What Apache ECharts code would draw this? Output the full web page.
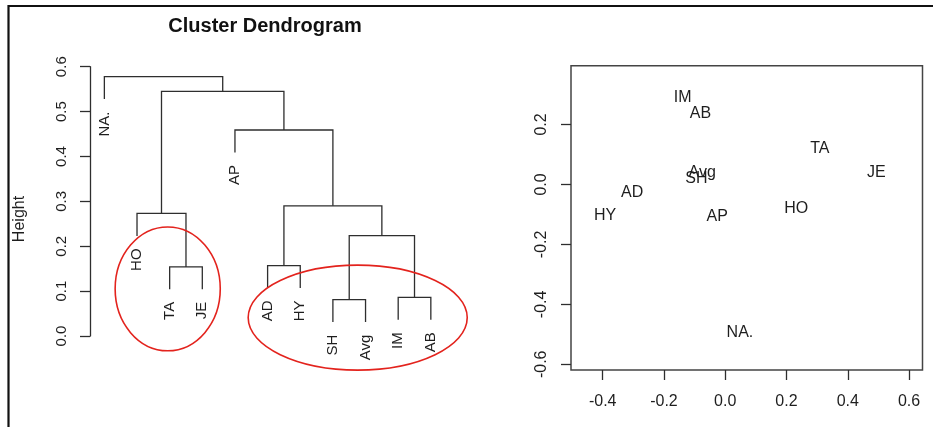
<!DOCTYPE html>
<html>
<head>
<meta charset="utf-8">
<title>Cluster Dendrogram</title>
<script src="https://cdn.jsdelivr.net/npm/echarts@6/dist/echarts.min.js"></script>
<style>
  html, body { margin: 0; padding: 0; background: #ffffff; }
  #chart { width: 933px; height: 427px; }
</style>
</head>
<body>
<div id="chart"></div>
<script>
// ---- Dendrogram data (hclust-style) ----
// Leaves in plotting order
const leafLabels = ['NA.', 'HO', 'TA', 'JE', 'AP', 'AD', 'HY', 'SH', 'Avg', 'IM', 'AB'];
// Merge steps: negative = leaf (1-based position), positive = earlier merge step
const mergeLeft   = [-8, -10, -3, -6, 1, -2, 4, -5, 6, -1];
const mergeRight  = [-9, -11, -4, -7, 2, 3, 5, 7, 8, 9];
const mergeHeight = [0.081, 0.086, 0.154, 0.157, 0.2235, 0.273, 0.290, 0.459, 0.545, 0.578];
const leafHang = 0.05;
const heightTicks = [0, 0.1, 0.2, 0.3, 0.4, 0.5, 0.6];

// Groups circled on the tree: centre (leaf position, height) and radii in the same units
const ringCenterX = [2.94, 8.76];
const ringCenterY = [0.105, 0.041];
const ringRadiusX = [1.61, 3.355];
const ringRadiusY = [0.138, 0.117];

// ---- Two-dimensional scaling coordinates ----
const pointLabels = ['IM', 'AB', 'TA', 'JE', 'SH', 'Avg', 'AD', 'HY', 'AP', 'HO', 'NA.'];
const pointX = [-0.139, -0.081, 0.309, 0.493, -0.094, -0.075, -0.304, -0.392, -0.026, 0.232, 0.048];
const pointY = [0.291, 0.236, 0.121, 0.039, 0.021, 0.039, -0.026, -0.103, -0.107, -0.081, -0.493];
const mdsTicksX = [-0.4, -0.2, 0.0, 0.2, 0.4, 0.6];
const mdsTicksY = [-0.6, -0.4, -0.2, 0.0, 0.2];

// ---- Build tree segments from the merge table ----
const nodeX = [];
const segments = [];
const leafEnds = [];
function childX(ref) { return ref < 0 ? -ref : nodeX[ref - 1]; }
function childBottom(ref, h) { return ref < 0 ? h - leafHang : mergeHeight[ref - 1]; }
for (let i = 0; i < mergeHeight.length; i++) {
  const l = mergeLeft[i], r = mergeRight[i], h = mergeHeight[i];
  const xl = childX(l), xr = childX(r);
  nodeX.push((xl + xr) / 2);
  segments.push([xl, xr, h, childBottom(l, h), childBottom(r, h)]);
  if (l < 0) leafEnds.push({ name: leafLabels[-l - 1], value: [-l, h - leafHang] });
  if (r < 0) leafEnds.push({ name: leafLabels[-r - 1], value: [-r, h - leafHang] });
}

const FONT = '"Liberation Sans", Arial, Helvetica, sans-serif';
const INK = '#1e1e1e';
const LINE = '#2e2e2e';

const chart = echarts.init(document.getElementById('chart'), null, { renderer: 'canvas' });

const option = {
  backgroundColor: '#ffffff',
  animation: false,
  textStyle: { fontFamily: FONT, color: INK },
  graphic: [
    {
      type: 'rect', z: 100,
      shape: { x: 8.5, y: 6, width: 1200, height: 1200 },
      style: { fill: 'none', stroke: '#111111', lineWidth: 2.2 }
    },
    {
      type: 'text', x: 265, y: 26,
      style: { text: 'Cluster Dendrogram', font: 'bold 20px ' + FONT, fill: '#111111',
               align: 'center', verticalAlign: 'middle' }
    },
    {
      type: 'text', x: 20, y: 219, rotation: Math.PI / 2,
      style: { text: 'Height', font: '16px ' + FONT, fill: INK,
               align: 'center', verticalAlign: 'middle' }
    }
  ],
  grid: [
    { left: 90, top: 66.7, width: 355.2, height: 269.3, show: false },
    { left: 571, top: 65.7, width: 351.5, height: 304.3, show: true,
      borderColor: '#444444', borderWidth: 1.5, backgroundColor: 'transparent' }
  ],
  xAxis: [
    { gridIndex: 0, type: 'value', min: 0.56, max: 11.44, show: false },
    {
      gridIndex: 1, type: 'value', min: -0.5035, max: 0.644, position: 'bottom',
      axisLine: { show: false, onZero: false },
      splitLine: { show: false },
      axisTick: { show: true, length: 10, customValues: mdsTicksX,
                  lineStyle: { color: LINE, width: 1.3 } },
      axisLabel: { show: true, customValues: mdsTicksX, margin: 24, fontSize: 16,
                   color: INK, fontFamily: FONT, formatter: v => v.toFixed(1) }
    }
  ],
  yAxis: [
    {
      gridIndex: 0, type: 'value', min: 0, max: 0.6, interval: 0.1, position: 'left',
      axisLine: { show: true, onZero: false, lineStyle: { color: LINE, width: 1.3 } },
      splitLine: { show: false },
      axisTick: { show: true, length: 10, customValues: heightTicks,
                  lineStyle: { color: LINE, width: 1.3 } },
      axisLabel: { show: true, customValues: heightTicks, rotate: 90, margin: 21, fontSize: 15,
                   color: INK, fontFamily: FONT, formatter: v => v.toFixed(1) }
    },
    {
      gridIndex: 1, type: 'value', min: -0.619, max: 0.396, position: 'left',
      axisLine: { show: false, onZero: false },
      splitLine: { show: false },
      axisTick: { show: true, length: 10, customValues: mdsTicksY,
                  lineStyle: { color: LINE, width: 1.3 } },
      axisLabel: { show: true, customValues: mdsTicksY, rotate: 90, margin: 21, fontSize: 16,
                   color: INK, fontFamily: FONT, formatter: v => v.toFixed(1) }
    }
  ],
  series: [
    {
      // tree branches
      type: 'custom', xAxisIndex: 0, yAxisIndex: 0, clip: false,
      data: segments,
      renderItem: function (params, api) {
        const xl = api.value(0), xr = api.value(1), h = api.value(2);
        const p1 = api.coord([xl, api.value(3)]);
        const p2 = api.coord([xl, h]);
        const p3 = api.coord([xr, h]);
        const p4 = api.coord([xr, api.value(4)]);
        return {
          type: 'polyline',
          shape: { points: [p1, p2, p3, p4] },
          style: { stroke: LINE, lineWidth: 1.3, fill: 'none' }
        };
      }
    },
    {
      // leaf labels hanging below each leaf
      type: 'custom', xAxisIndex: 0, yAxisIndex: 0, clip: false,
      data: leafEnds,
      renderItem: function (params, api) {
        const p = api.coord([api.value(0), api.value(1)]);
        return {
          type: 'text',
          x: p[0], y: p[1] + 12.5, rotation: Math.PI / 2,
          style: { text: leafEnds[params.dataIndex].name, x: 0, y: 0,
                   font: '15px ' + FONT, fill: INK, align: 'right', verticalAlign: 'middle' }
        };
      }
    },
    {
      // red rings around the two groups
      type: 'custom', xAxisIndex: 0, yAxisIndex: 0, clip: false,
      data: ringCenterX.map((cx, i) => [cx, ringCenterY[i], ringRadiusX[i], ringRadiusY[i]]),
      renderItem: function (params, api) {
        const c = api.coord([api.value(0), api.value(1)]);
        const s = api.size([api.value(2), api.value(3)]);
        return {
          type: 'ellipse',
          shape: { cx: c[0], cy: c[1], rx: s[0], ry: s[1] },
          style: { fill: 'none', stroke: '#e3231d', lineWidth: 1.6 }
        };
      }
    },
    {
      // MDS point labels
      type: 'custom', xAxisIndex: 1, yAxisIndex: 1, clip: false,
      data: pointX.map((x, i) => ({ name: pointLabels[i], value: [x, pointY[i]] })),
      renderItem: function (params, api) {
        const p = api.coord([api.value(0), api.value(1)]);
        return {
          type: 'text',
          x: p[0], y: p[1],
          style: { text: pointLabels[params.dataIndex], font: '16px ' + FONT, fill: INK,
                   align: 'center', verticalAlign: 'middle' }
        };
      }
    }
  ]
};

chart.setOption(option);
</script>
</body>
</html>
